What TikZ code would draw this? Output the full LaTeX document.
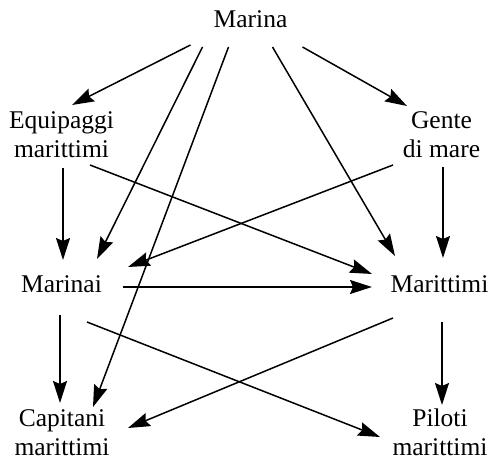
\documentclass[tikz,border=0pt]{standalone}
\usepackage{fontspec}
\setmainfont{Liberation Serif}
\usetikzlibrary{arrows.meta}
\begin{document}
\begin{tikzpicture}[x=1pt,y=-1pt,
  term/.style={font=\fontsize{25.5}{29}\selectfont, align=center, inner sep=0pt, anchor=base},
  arr/.style={line width=1.5pt, -{Stealth[length=22pt,width=14pt,inset=3pt]}}]
  \fill[white] (0,0) rectangle (491,460);
  \useasboundingbox (0,0) rectangle (491,460);

  % terms (base = baseline of the last line)
  \node[term] (marina)    at (250.5,28)  {Marina};
  \node[term] (equip)     at (61.5,158)  {Equipaggi\\marittimi};
  \node[term] (gente)     at (441.5,158) {Gente\\di mare};
  \node[term] (marinai)   at (61.5,292)  {Marinai};
  \node[term] (marittimi) at (439.5,292) {Marittimi};
  \node[term] (capitani)  at (62,455)    {Capitani\\marittimi};
  \node[term] (piloti)    at (440,455)   {Piloti\\marittimi};

  % relations
  \draw[arr] ([shift={(-60,17)}]marina.base) -- ([shift={(10.5,-53)}]equip.base);
  \draw[arr] ([shift={(-48,19)}]marina.base) -- ([shift={(35.5,-33)}]marinai.base);
  \draw[arr] ([shift={(-22,19)}]marina.base) -- ([shift={(31,-48)}]capitani.base);
  \draw[arr] ([shift={(22,19)}]marina.base)  -- ([shift={(-44.5,-36)}]marittimi.base);
  \draw[arr] ([shift={(52,19)}]marina.base)  -- ([shift={(-34.5,-52)}]gente.base);
  \draw[arr] ([shift={(1.5,10)}]equip.base)  -- ([shift={(1.5,-32)}]marinai.base);
  \draw[arr] ([shift={(28.5,7)}]equip.base)  -- ([shift={(-67.5,-18)}]marittimi.base);
  \draw[arr] ([shift={(-48.5,7)}]gente.base) -- ([shift={(66.5,-25)}]marinai.base);
  \draw[arr] ([shift={(1.5,9)}]gente.base)   -- ([shift={(3.5,-34)}]marittimi.base);
  \draw[arr] ([shift={(61.5,-5)}]marinai.base) -- ([shift={(-67.5,-5)}]marittimi.base);
  \draw[arr] ([shift={(-1.5,23)}]marinai.base) -- ([shift={(-2,-52)}]capitani.base);
  \draw[arr] ([shift={(25.5,30)}]marinai.base) -- ([shift={(-60,-18)}]piloti.base);
  \draw[arr] ([shift={(-46.5,26)}]marittimi.base) -- ([shift={(66,-27)}]capitani.base);
  \draw[arr] ([shift={(2.5,30)}]marittimi.base) -- ([shift={(2,-50)}]piloti.base);
\end{tikzpicture}
\end{document}
